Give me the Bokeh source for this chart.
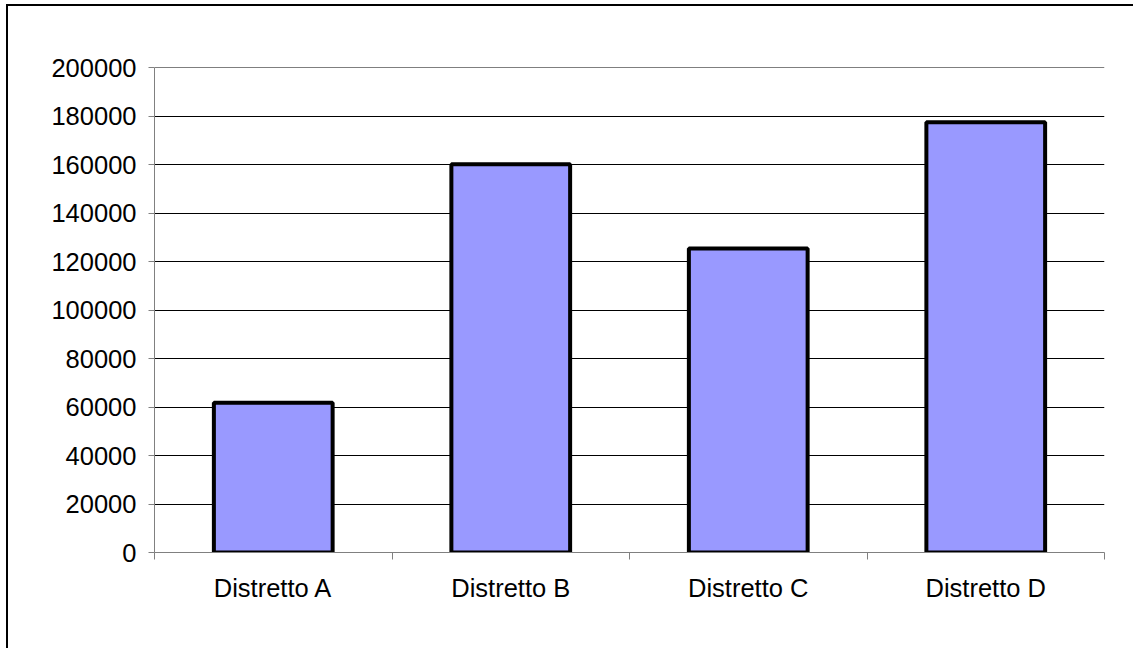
from bokeh.plotting import figure
from bokeh.models import ColumnDataSource, Range1d, FixedTicker, InlineStyleSheet
from bokeh.embed import file_html
from bokeh.resources import INLINE

categories = ["Distretto A", "Distretto B", "Distretto C", "Distretto D"]
values = [61800, 160200, 125400, 177500]
y_ticks = [0, 20000, 40000, 60000, 80000, 100000, 120000, 140000, 160000, 180000, 200000]

xs = [i + 0.5 for i in range(len(categories))]
src = ColumnDataSource(dict(x=xs, top=values))

p = figure(width=1133, height=648, output_backend="svg", toolbar_location=None,
           x_range=Range1d(0, len(categories)), y_range=Range1d(0, 200060),
           frame_width=950, frame_height=485,
           min_border_left=154, min_border_right=29, min_border_top=67, min_border_bottom=96)
p.outline_line_color = None
p.background_fill_color = "white"
p.border_fill_color = "white"

p.vbar(x="x", top="top", width=0.5, source=src, fill_color="#9999FF",
       line_color="black", line_width=4)

# x axis
p.xaxis.ticker = FixedTicker(ticks=xs, minor_ticks=list(range(len(categories) + 1)))
p.xaxis.major_label_overrides = {x: c for x, c in zip(xs, categories)}
p.xaxis.major_tick_line_color = None
p.xaxis.major_tick_out = 6
p.xaxis.minor_tick_out = 7
p.xaxis.minor_tick_in = 0
p.xaxis.minor_tick_line_color = "#808080"
p.xaxis.axis_line_color = "#808080"
p.xaxis.major_label_standoff = 14
p.xaxis.major_label_text_font = "Liberation Sans"
p.xaxis.major_label_text_font_size = "25.5px"
p.xaxis.major_label_text_color = "black"

# y axis
p.yaxis.ticker = FixedTicker(ticks=y_ticks)
p.yaxis.major_label_overrides = {t: str(t) for t in y_ticks}
p.yaxis.minor_tick_line_color = None
p.yaxis.major_tick_out = 6
p.yaxis.major_tick_in = 0
p.yaxis.major_tick_line_color = "#808080"
p.yaxis.axis_line_color = "#808080"
p.yaxis.major_label_standoff = 12
p.yaxis.major_label_text_font = "Liberation Sans"
p.yaxis.major_label_text_font_size = "25.5px"
p.yaxis.major_label_text_color = "black"

p.xgrid.grid_line_color = None
p.ygrid.grid_line_color = "black"
p.ygrid.grid_line_width = 1

p.stylesheets = [InlineStyleSheet(css="""
:host { position: relative; overflow: hidden; }
:host::after {
  content: ""; position: absolute; left: 6px; top: 4px; width: 1140px; height: 660px;
  border-left: 2px solid black; border-top: 2px solid black;
  pointer-events: none; z-index: 100;
}
""")]

open("out.html", "w").write(file_html(p, INLINE))
